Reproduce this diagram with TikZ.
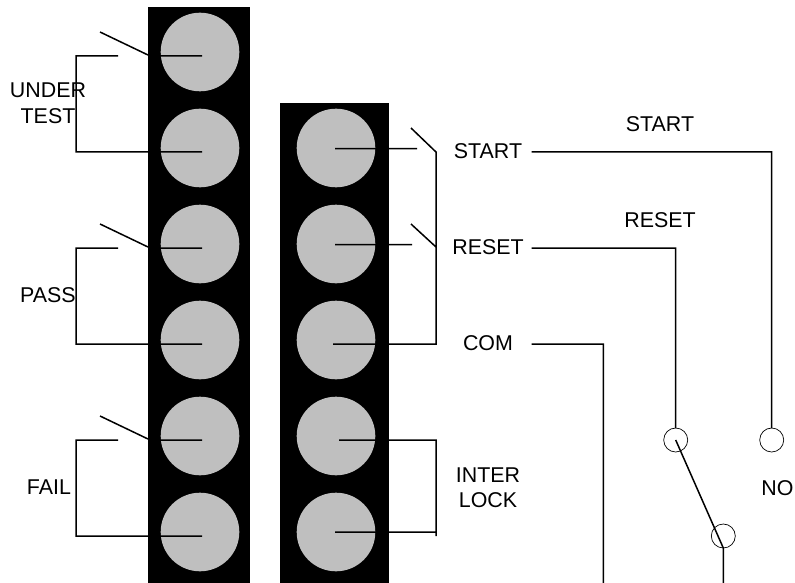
\documentclass[tikz,border=0pt]{standalone}
\usepackage{fontspec}
\setmainfont{Liberation Sans}
\usetikzlibrary{
    positioning
}
\tikzset{
    bar/.style={fill=black},
    pin/.style={circle, fill=black!25, minimum size=78.6pt, inner sep=0pt, outer sep=0pt},
    term/.style={circle, draw, line width=0.7pt, fill=white, minimum size=24pt, inner sep=0pt, outer sep=0pt},
    lbl/.style={inner sep=0pt, font=\fontsize{21.4}{25}\selectfont},
    wire/.style={line width=1.5pt, line join=miter}
}

\begin{document}
\begin{tikzpicture}[x=1pt, y=-1pt]
    \useasboundingbox (0, 0) rectangle (795, 583);
    \fill[bar] (148, 7) rectangle (249.5, 583);
    \fill[bar] (279.5, 103.5) rectangle (388.5, 583);

    \node[pin] (la) at (200, 52) {};
    \node[pin] (lb) at (200, 148) {};
    \node[pin] (lc) at (200, 244) {};
    \node[pin] (ld) at (200, 340) {};
    \node[pin] (le) at (200, 436) {};
    \node[pin] (lf) at (200, 532) {};
    \node[pin] (ra) at (336, 148) {};
    \node[pin] (rb) at (336, 244) {};
    \node[pin] (rc) at (336, 340) {};
    \node[pin] (rd) at (336, 436) {};
    \node[pin] (re) at (336, 532) {};

    \node[term] (nc) at (675.7, 440) {};
    \node[term] (no) at (771.7, 440) {};
    \node[term] (cm) at (723.3, 536) {};

    \node[lbl] (under) at (48, 90.5) {UNDER};
    \node[lbl] (test) at (48, 116) {TEST};
    \node[lbl] (pass) at (48, 295) {PASS};
    \node[lbl] (fail) at (49, 487) {FAIL};
    \node[lbl] (tstart) at (488, 151.5) {START};
    \node[lbl] (treset) at (488, 247.5) {RESET};
    \node[lbl] (tcom) at (488, 343.5) {COM};
    \node[lbl] (inter) at (488, 475) {INTER};
    \node[lbl] (lock) at (488, 500.5) {LOCK};
    \node[lbl] (wstart) at (660, 124) {START};
    \node[lbl] (wreset) at (660, 220) {RESET};
    \node[lbl] (tno) at (777.5, 488) {NO};

    \coordinate (la1) at (202, 56);
    \coordinate (la2) at (148, 56);
    \coordinate (la3) at (118, 56);
    \coordinate (la4) at (100, 32);
    \coordinate (la5) at (148, 55);
    \coordinate (lb1) at (202, 152);
    \coordinate (lc1) at (202, 248);
    \coordinate (lc2) at (148, 248);
    \coordinate (lc3) at (118, 248);
    \coordinate (lc4) at (100, 224);
    \coordinate (lc5) at (148, 247);
    \coordinate (ld1) at (202, 344);
    \coordinate (le1) at (202, 440);
    \coordinate (le2) at (148, 440);
    \coordinate (le3) at (118, 440);
    \coordinate (le4) at (100, 416);
    \coordinate (le5) at (148, 439);
    \coordinate (lf1) at (202, 536);

    \coordinate (ra1) at (335, 148.7);
    \coordinate (ra2) at (417, 148.7);
    \coordinate (ra3) at (411, 128);
    \coordinate (ra4) at (436, 152);
    \coordinate (rb1) at (335, 244.7);
    \coordinate (rb2) at (412, 244.7);
    \coordinate (rb3) at (411, 224);
    \coordinate (rb4) at (436, 247);
    \coordinate (rc1) at (333, 344);
    \coordinate (rc2) at (436, 344);
    \coordinate (rd1) at (339, 440);
    \coordinate (rd2) at (436, 440);
    \coordinate (re1) at (335, 532);
    \coordinate (re2) at (436, 532);
    \coordinate (re3) at (436, 536);

    \coordinate (sw) at (531.7, 152);
    \coordinate (rw) at (531.7, 248);
    \coordinate (cw) at (531.7, 344);
    \coordinate (cb) at (603.3, 583);
    \coordinate (mb) at (723.3, 583);

    \draw[wire]
    (la1) -- (la2) (la3) -- ++(-42, 0) |- (lb1) (la4) -- (la5)
    (lc1) -- (lc2) (lc3) -- ++(-42, 0) |- (ld1) (lc4) -- (lc5)
    (le1) -- (le2) (le3) -- ++(-42, 0) |- (lf1) (le4) -- (le5);
    \draw[wire]
    (ra1) -- (ra2) (ra3) -- (ra4) -- (rc2) -- (rc1)
    (rb1) -- (rb2) (rb3) -- (rb4)
    (rd1) -- (rd2) -- (re3) (re1) -- (re2);
    \draw[wire]
    (sw) -| (no.north)
    (rw) -| (nc.north)
    (cw) -| (cb)
    (nc.center) -- (cm.south) -- (mb);
\end{tikzpicture}
\end{document}
